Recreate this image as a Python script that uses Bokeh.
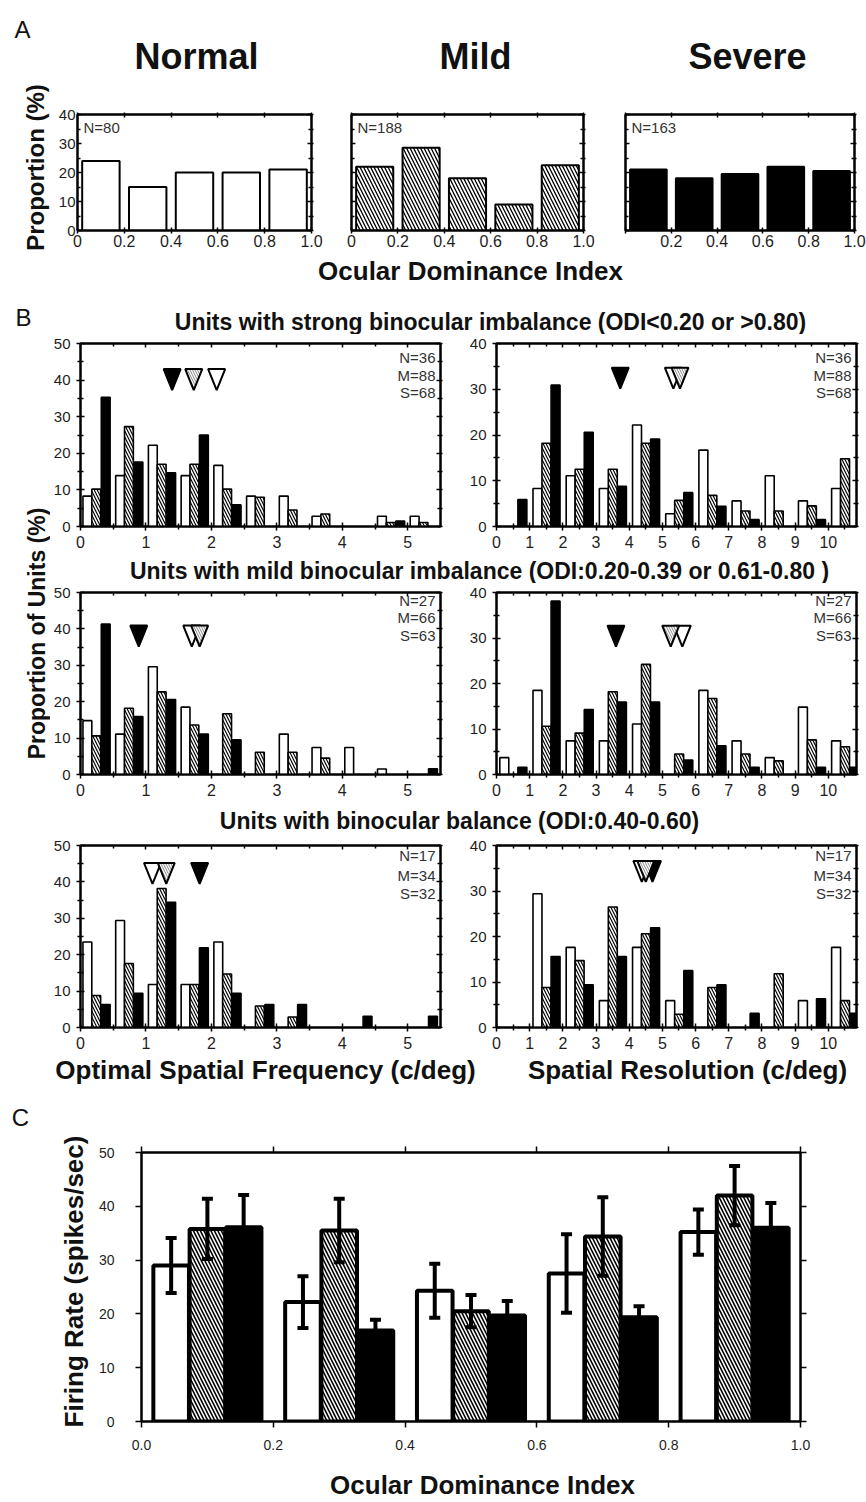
import math
from bokeh.plotting import figure
from bokeh.layouts import column, row
from bokeh.models import Range1d, LinearAxis, FixedTicker, Label, ColumnDataSource, Whisker, TeeHead
from bokeh.embed import file_html
from bokeh.resources import INLINE
from bokeh.core.validation import silence
from bokeh.core.validation.warnings import MISSING_RENDERERS

silence(MISSING_RENDERERS, True)

FONT = "Liberation Sans"
INK = "#111111"

# ---------------- data ----------------
# Panel A
odi_centers = [0.1, 0.3, 0.5, 0.7, 0.9]
odi_ticks = [0.0, 0.2, 0.4, 0.6, 0.8, 1.0]
odi_tick_labels = ["0", "0.2", "0.4", "0.6", "0.8", "1.0"]
prop_ticks = [0, 10, 20, 30, 40]
prop_minor = [5, 15, 25, 35]
a_titles = ["Normal", "Mild", "Severe"]
a_counts = ["N=80", "N=188", "N=163"]
a_normal = [24, 15, 20, 20, 21]
a_mild = [22, 28.5, 18, 9, 22.5]
a_severe = [21, 18, 19.5, 22, 20.5]

# Panel B
osf_bins = [0.0, 0.5, 1.0, 1.5, 2.0, 2.5, 3.0, 3.5, 4.0, 4.5, 5.0]
sr_bins = [0, 1, 2, 3, 4, 5, 6, 7, 8, 9, 10]
osf_ticks = [0, 1, 2, 3, 4, 5]
osf_minor = [0.5, 1.5, 2.5, 3.5, 4.5]
sr_ticks = [0, 1, 2, 3, 4, 5, 6, 7, 8, 9, 10]
sr_minor = [0.5, 1.5, 2.5, 3.5, 4.5, 5.5, 6.5, 7.5, 8.5, 9.5, 10.5]
units_ticks_50 = [0, 10, 20, 30, 40, 50]
units_minor_50 = [5, 15, 25, 35, 45]
units_ticks_40 = [0, 10, 20, 30, 40]
units_minor_40 = [5, 15, 25, 35]

b_titles = ["Units with strong binocular imbalance (ODI<0.20 or >0.80)",
            "Units with mild binocular imbalance (ODI:0.20-0.39 or 0.61-0.80 )",
            "Units with binocular balance (ODI:0.40-0.60)"]

strong_osf_normal = [8.3, 13.9, 22.2, 13.9, 16.7, 8.3, 8.3, 2.8, 0, 2.8, 2.8]
strong_osf_mild = [10.2, 27.3, 17.0, 17.0, 10.2, 8.0, 4.5, 3.4, 0, 1.1, 1.1]
strong_osf_severe = [35.3, 17.6, 14.7, 25.0, 5.9, 0, 0, 0, 0, 1.5, 0]
strong_sr_normal = [0, 8.3, 11.1, 8.3, 22.2, 2.8, 16.7, 5.6, 11.1, 5.6, 8.3]
strong_sr_mild = [0, 18.2, 12.5, 12.5, 18.2, 5.7, 6.8, 3.4, 3.4, 4.5, 14.8]
strong_sr_severe = [5.9, 30.9, 20.6, 8.8, 19.1, 7.4, 4.4, 1.5, 0, 1.5, 0]
strong_osf_means = [2.08, 1.73, 1.40]   # normal, mild, severe
strong_sr_means = [5.33, 5.53, 3.73]
strong_counts = ["N=36", "M=88", "S=68"]

mild_osf_normal = [14.8, 11.1, 29.6, 18.5, 0, 0, 11.1, 7.4, 7.4, 1.5, 0]
mild_osf_mild = [10.6, 18.2, 22.7, 13.6, 16.7, 6.1, 6.1, 4.5, 0, 0, 0]
mild_osf_severe = [41.3, 15.9, 20.6, 11.1, 9.5, 0, 0, 0, 0, 0, 1.6]
mild_sr_normal = [3.7, 18.5, 7.4, 7.4, 11.1, 0, 18.5, 7.4, 3.7, 14.8, 7.4]
mild_sr_mild = [0, 10.6, 9.1, 18.2, 24.2, 4.5, 16.7, 4.5, 3.0, 7.6, 6.1]
mild_sr_severe = [1.6, 38.1, 14.3, 15.9, 15.9, 3.2, 6.3, 1.6, 0, 1.6, 1.6]
mild_osf_means = [1.70, 1.82, 0.89]
mild_sr_means = [5.60, 5.25, 3.60]
mild_counts = ["N=27", "M=66", "S=63"]

bal_osf_normal = [23.5, 29.4, 11.8, 11.8, 23.5, 0, 0, 0, 0, 0, 0]
bal_osf_mild = [8.8, 17.6, 38.2, 11.8, 14.7, 5.9, 2.9, 0, 0, 0, 0]
bal_osf_severe = [6.3, 9.4, 34.4, 21.9, 9.4, 6.3, 6.3, 0, 3.1, 0, 3.1]
bal_sr_normal = [0, 29.4, 17.6, 5.9, 17.6, 5.9, 0, 0, 0, 5.9, 17.6]
bal_sr_mild = [0, 8.8, 14.7, 26.5, 20.6, 2.9, 8.8, 0, 11.8, 0, 5.9]
bal_sr_severe = [0, 15.6, 9.4, 15.6, 21.9, 12.5, 9.4, 3.1, 0, 6.3, 3.1]
bal_osf_means = [1.10, 1.31, 1.82]
bal_sr_means = [4.38, 4.50, 4.70]
bal_counts = ["N=17", "M=34", "S=32"]

# Panel C
c_centers = [0.1, 0.3, 0.5, 0.7, 0.9]
c_ticks = [0.0, 0.2, 0.4, 0.6, 0.8, 1.0]
c_tick_labels = ["0.0", "0.2", "0.4", "0.6", "0.8", "1.0"]
rate_ticks = [0, 10, 20, 30, 40, 50]
c_normal = [29.0, 22.2, 24.3, 27.5, 35.2]
c_normal_sem = [5.1, 4.8, 5.0, 7.3, 4.2]
c_mild = [35.8, 35.5, 20.5, 34.4, 42.0]
c_mild_sem = [5.6, 5.9, 3.0, 7.3, 5.5]
c_severe = [36.1, 16.9, 19.7, 19.4, 36.0]
c_severe_sem = [6.0, 2.0, 2.7, 2.0, 4.6]

# ---------------- helpers ----------------
HATCH = "left_diagonal_line"


def base_fig(w, h, bl, br, bt, bb, xr, yr):
    p = figure(width=w, height=h, x_range=Range1d(xr[0], xr[1]), y_range=Range1d(yr[0], yr[1]),
               output_backend="svg", toolbar_location=None,
               min_border_left=bl, min_border_right=br, min_border_top=bt, min_border_bottom=bb)
    p.xgrid.visible = False
    p.ygrid.visible = False
    p.outline_line_color = "black"
    p.outline_line_width = 2
    p.border_fill_color = "white"
    p.background_fill_color = "white"
    return p


def set_axis(a, ticks, minor, tin=4, tout=4, mtin=3, mtout=3, fs="15px", standoff=6,
             overrides=None, hidden=False, lw=2.0):
    a.ticker = FixedTicker(ticks=ticks, minor_ticks=minor)
    a.axis_line_width = lw
    a.axis_line_color = "black"
    a.major_tick_in = tin
    a.major_tick_out = tout
    a.minor_tick_in = mtin
    a.minor_tick_out = mtout
    a.major_tick_line_width = 1.5
    a.minor_tick_line_width = 1.5
    a.major_tick_line_color = "black"
    a.minor_tick_line_color = "black"
    a.major_label_text_font = FONT
    if hidden:
        a.major_label_text_font_size = "1px"
        a.major_label_text_color = None
        a.major_label_standoff = 0
    else:
        a.major_label_text_font_size = fs
        a.major_label_text_color = "#1e1e1e"
        a.major_label_standoff = standoff
    if overrides is not None:
        a.major_label_overrides = overrides


def frame_axes(p, xt, xm, yt, ym, bottom, left, top, right, lw=2.0):
    bx = p.below[0]
    ly = p.left[0]
    ax = LinearAxis()
    ry = LinearAxis()
    p.add_layout(ax, "above")
    p.add_layout(ry, "right")
    set_axis(bx, xt, xm, lw=lw, **bottom)
    set_axis(ly, yt, ym, lw=lw, **left)
    set_axis(ax, xt, xm, lw=lw, hidden=True, **top)
    set_axis(ry, yt, ym, lw=lw, hidden=True, **right)


def lab(text, x, y, size, bold=False, align="center", angle=0.0, color=INK):
    # (x, y): centre of the text, in pixels from the frame's bottom-left corner
    return Label(x=x, y=y, x_units="screen", y_units="screen", text=text, text_font=FONT,
                 text_font_size=f"{size}px", text_font_style="bold" if bold else "normal",
                 text_align=align, text_baseline="middle", angle=angle, text_color=color)


def strip(w, h, labels):
    p = figure(width=w, height=h, x_range=Range1d(0, 1), y_range=Range1d(0, 1),
               output_backend="svg", toolbar_location=None, min_border=0,
               x_axis_location=None, y_axis_location=None)
    p.grid.visible = False
    p.outline_line_color = None
    p.border_fill_color = "white"
    p.background_fill_color = "white"
    for l in labels:
        p.add_layout(l)
    return p


# ---------------- Panel A ----------------
a_series = [a_normal, a_mild, a_severe]
a_geom = [(281, 27, 20), (273, 20, 21), (262, 21, 12)]
a_styles = [dict(fill_color="white"),
            dict(fill_color="white", hatch_pattern=HATCH, hatch_color="black", hatch_scale=7, hatch_weight=1.3),
            dict(fill_color="black")]
figs_a = []
for i in range(3):
    w, bl, br = a_geom[i]
    p = base_fig(w, 155, bl, br, 14, 25, (0, 1), (0, 40))
    p.vbar(x=odi_centers, width=0.16, top=a_series[i], bottom=0,
           line_color="black", line_width=2, **a_styles[i])
    if i < 2:
        xt, xm = odi_ticks, []
        x_over = {t: l for t, l in zip(odi_ticks, odi_tick_labels)}
    else:
        xt, xm = odi_ticks[1:], odi_ticks[:1]
        x_over = {t: l for t, l in zip(odi_ticks[1:], odi_tick_labels[1:])}
    frame_axes(p, xt, xm, prop_ticks, prop_minor,
               bottom=dict(tin=3, tout=3, mtin=3, mtout=3, fs="16px", standoff=1, overrides=x_over),
               left=dict(tin=4, tout=0, mtin=3, mtout=0, fs="15px", standoff=2, hidden=(i > 0)),
               top=dict(tin=3, tout=2, mtin=3, mtout=2),
               right=dict(tin=4, tout=2, mtin=3, mtout=2))
    p.add_layout(lab(a_counts[i], 6, 103.5, 15, align="left", color="#333333"))
    figs_a.append(p)

title_a = strip(816, 100, [lab(a_titles[0], 146, 44.5, 36, bold=True),
                           lab(a_titles[1], 425, 44.5, 36, bold=True),
                           lab(a_titles[2], 697, 44.5, 36, bold=True)])
ystrip_a = strip(50, 255, [lab("A", 22, 226.5, 24),
                           lab("Proportion (%)", 35, 88, 24, bold=True, angle=math.pi / 2)])
block_a = row(ystrip_a, column(row(title_a), row(*figs_a, spacing=0), spacing=0), spacing=0)
xstrip_a = strip(866, 37, [lab("Ocular Dominance Index", 470, 22, 26, bold=True)])

# ---------------- Panel B ----------------
B_STYLES = [dict(fill_color="white"),
            dict(fill_color="white", hatch_pattern=HATCH, hatch_color="black", hatch_scale=6, hatch_weight=1.2),
            dict(fill_color="black")]
TRI_STYLES = [dict(fill_color="white"),
              dict(fill_color="white", hatch_pattern=HATCH, hatch_color="#888888", hatch_scale=5, hatch_weight=1),
              dict(fill_color="black")]
OFFS_L, BW_L = [0.105, 0.24, 0.385], 0.135
OFFS_R, BW_R = [0.235, 0.505, 0.78], 0.27


def hist(w, h, bl, br, bt, bb, xmax, ymax, bins, offs, bw, series, means, tri_top,
         counts, count_offs, xt, xm, yt, ym):
    p = base_fig(w, h, bl, br, bt, bb, (0, xmax), (0, ymax))
    fw = w - bl - br
    fh = h - bt - bb
    for k in range(3):
        vals = series[k]
        xs = [b + offs[k] for b, v in zip(bins, vals) if v > 0]
        tops = [v for v in vals if v > 0]
        p.vbar(x=xs, width=bw, top=tops, bottom=0, line_color="black", line_width=1.6, **B_STYLES[k])
    hw = 8.5 * xmax / fw
    th = 21.0 * ymax / fh
    for k in (2, 0, 1):
        m = means[k]
        p.patch(x=[m - hw, m + hw, m], y=[tri_top, tri_top, tri_top - th],
                line_color="black", line_width=2, **TRI_STYLES[k])
    frame_axes(p, xt, xm, yt, ym,
               bottom=dict(tin=4, tout=4, mtin=3, mtout=3, fs="16px", standoff=5),
               left=dict(tin=4, tout=4, mtin=3, mtout=3, fs="15px", standoff=6),
               top=dict(tin=4, tout=0, mtin=3, mtout=0),
               right=dict(tin=4, tout=2, mtin=3, mtout=2))
    for j, t in enumerate(counts):
        p.add_layout(lab(t, fw - 5, fh - count_offs[j], 15, align="right", color="#333333"))
    return p


rows_b = []
b_spec = [
    (220, 9, 28, [strong_osf_normal, strong_osf_mild, strong_osf_severe], strong_osf_means, 43.0,
     [strong_sr_normal, strong_sr_mild, strong_sr_severe], strong_sr_means, 34.7, strong_counts, [13.7, 32, 48.7]),
    (221, 9, 30, [mild_osf_normal, mild_osf_mild, mild_osf_severe], mild_osf_means, 40.9,
     [mild_sr_normal, mild_sr_mild, mild_sr_severe], mild_sr_means, 32.7, mild_counts, [7.5, 24.7, 43]),
    (220, 9, 29, [bal_osf_normal, bal_osf_mild, bal_osf_severe], bal_osf_means, 45.2,
     [bal_sr_normal, bal_sr_mild, bal_sr_severe], bal_sr_means, 36.6, bal_counts, [10.3, 30, 47.5]),
]
for (h, bt, bb, ls, lm, lt, rs, rm, rt, cnt, co) in b_spec:
    left = hist(400, h, 30, 10, bt, bb, 5.5, 50, osf_bins, OFFS_L, BW_L, ls, lm, lt, cnt, co,
                osf_ticks, osf_minor, units_ticks_50, units_minor_50)
    right = hist(416, h, 46, 10, bt, bb, 10.85, 40, sr_bins, OFFS_R, BW_R, rs, rm, rt, cnt, co,
                 sr_ticks, sr_minor, units_ticks_40, units_minor_40)
    rows_b.append(row(left, right, spacing=0))

t1 = strip(816, 42, [lab(b_titles[0], 440, 13, 23, bold=True)])
t2 = strip(816, 29, [lab(b_titles[1], 429, 13, 23, bold=True)])
t3 = strip(816, 32, [lab(b_titles[2], 409, 16, 23, bold=True)])
xs_b = strip(816, 36, [lab("Optimal Spatial Frequency (c/deg)", 215, 22.5, 26, bold=True),
                       lab("Spatial Resolution (c/deg)", 637, 22.5, 26, bold=True)])
ys_b = strip(50, 800, [lab("B", 23, 775.5, 24),
                       lab("Proportion of Units (%)", 36, 459, 23, bold=True, angle=math.pi / 2)])
b_inner = column(row(t1), rows_b[0], row(t2), rows_b[1], row(t3), rows_b[2], row(xs_b), spacing=0)
block_b = row(ys_b, b_inner, spacing=0)

# ---------------- Panel C ----------------
pc = base_fig(776, 370, 51, 66, 60, 41, (0, 1), (0, 50))
c_series = [(c_normal, c_normal_sem), (c_mild, c_mild_sem), (c_severe, c_severe_sem)]
c_offs = [-0.055, 0.0, 0.055]
c_styles = [dict(fill_color="white"),
            dict(fill_color="white", hatch_pattern=HATCH, hatch_color="black", hatch_scale=7, hatch_weight=1.6),
            dict(fill_color="black")]
for k, (vals, sem) in enumerate(c_series):
    xs = [c + c_offs[k] for c in c_centers]
    pc.vbar(x=xs, width=0.054, top=vals, bottom=0, line_color="black", line_width=4, **c_styles[k])
for k, (vals, sem) in enumerate(c_series):
    xs = [c + c_offs[k] for c in c_centers]
    src = ColumnDataSource(dict(x=xs, upper=[v + e for v, e in zip(vals, sem)],
                                lower=[v - e for v, e in zip(vals, sem)]))
    wk = Whisker(source=src, base="x", upper="upper", lower="lower", line_color="black", line_width=4,
                 upper_head=TeeHead(size=11, line_width=4, line_color="black"),
                 lower_head=TeeHead(size=11, line_width=4, line_color="black"), level="annotation")
    pc.add_layout(wk)
c_over = {t: l for t, l in zip(c_ticks, c_tick_labels)}
frame_axes(pc, c_ticks, [], rate_ticks, [],
           bottom=dict(tin=0, tout=6, mtin=0, mtout=0, fs="14px", standoff=12, overrides=c_over),
           left=dict(tin=0, tout=6, mtin=0, mtout=0, fs="14px", standoff=21),
           top=dict(tin=0, tout=6, mtin=0, mtout=0),
           right=dict(tin=0, tout=6, mtin=0, mtout=0))
ystrip_c = strip(90, 408, [lab("C", 20, 383, 24),
                           lab("Firing Rate (spikes/sec)", 73, 219, 26, bold=True, angle=math.pi / 2)])
xstrip_c = strip(776, 38, [lab("Ocular Dominance Index", 392, 16, 26, bold=True)])
block_c = row(ystrip_c, column(row(pc), row(xstrip_c), spacing=0), spacing=0)

layout = column(block_a, row(xstrip_a), block_b, block_c, spacing=0)
open("out.html", "w").write(file_html(layout, INLINE))
